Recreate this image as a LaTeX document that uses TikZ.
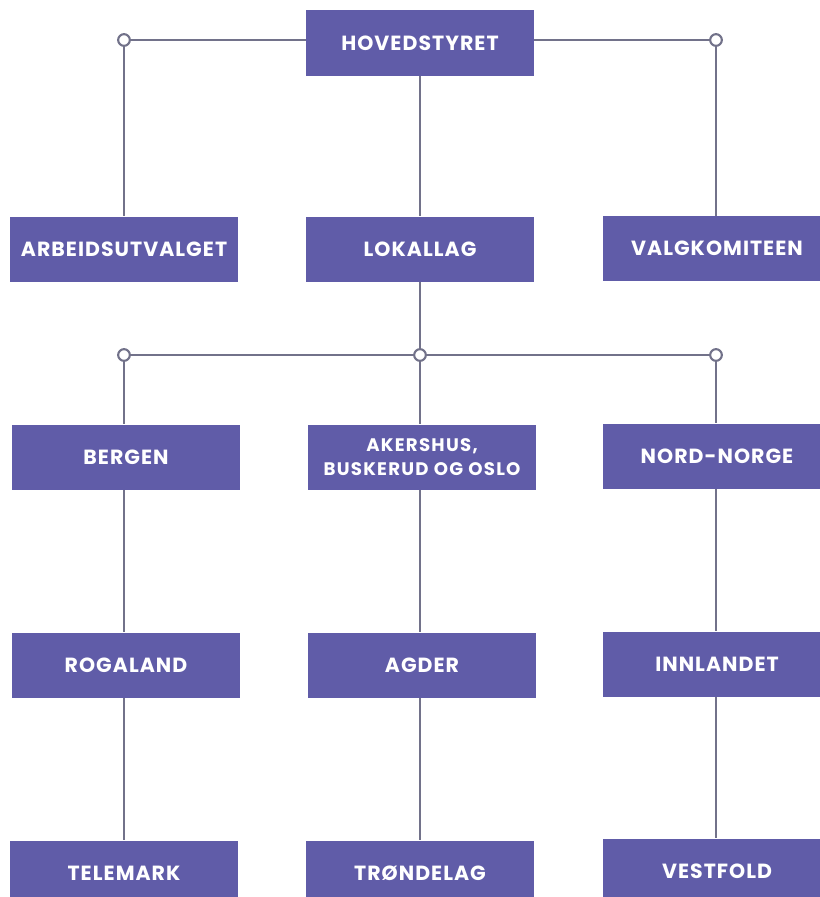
\documentclass[tikz,border=0pt]{standalone}
\usepackage{fontspec}
\setmainfont{Poppins}
\usetikzlibrary{positioning,calc}
\definecolor{boxpurple}{HTML}{605CA8}
\definecolor{linegray}{HTML}{72728A}

\begin{document}
\begin{tikzpicture}[x=0.03cm,y=-0.03cm,
    org/.style={fill=boxpurple, text=white,
      font=\bfseries\fontsize{17.5}{21}\selectfont\addfontfeatures{LetterSpace=5},
      minimum width=6.84cm, minimum height=1.95cm, inner sep=0pt, align=center},
    link/.style={draw=linegray, line width=2.4pt},
    knot/.style={circle, draw=linegray, fill=white, line width=1.8pt,
      minimum size=0.35cm, inner sep=0pt}]
            \useasboundingbox (0,0) rectangle (820,897);
            \clip (0,0) rectangle (820,897);

            % junction points
            \coordinate (kl) at (124,40);
            \coordinate (kr) at (716,40);
            \coordinate (ml) at (124,355);
            \coordinate (mm) at (420,355);
            \coordinate (mr) at (716,355);

            \node[org] (hoved) at (420,43) {HOVEDSTYRET};
            \node[org] (arbeid) at (124,249) {ARBEIDSUTVALGET};
            \node[org] (lokal) at (420,249) {LOKALLAG};
            \node[org] (valg) at (717,248.5) {VALGKOMITEEN};

            \node[org] (bergen) at (126,457) {BERGEN};
            \node[org, font=\bfseries\fontsize{15.5}{21}\selectfont\addfontfeatures{LetterSpace=7}] (akers) at (422,457) {AKERSHUS,\\BUSKERUD OG OSLO};
            \node[org] (nord) at (717,456) {NORD-NORGE};

            \node[org] (roga) at (126,665) {ROGALAND};
            \node[org] (agder) at (422,665) {AGDER};
            \node[org] (innl) at (717,664) {INNLANDET};

            \node[org] (tele) at (124,873) {TELEMARK};
            \node[org] (trond) at (420,873) {TRØNDELAG};
            \node[org] (vest) at (717,871) {VESTFOLD};

            % top level
            \draw[link] (kl) -- (kl -| hoved.west);
            \draw[link] (kr) -- (kr -| hoved.east);
            \draw[link] (kl) -- (kl |- arbeid.north);
            \draw[link] (kr) -- (kr |- valg.north);
            \draw[link] (hoved) -- (lokal);

            % local branches
            \draw[link] (lokal) -- (mm);
            \draw[link] (ml) -- (mr);
            \draw[link] (ml) -- (ml |- bergen.north);
            \draw[link] (mm) -- (mm |- akers.north);
            \draw[link] (mr) -- (mr |- nord.north);

            \draw[link] (ml |- bergen.south) -- (ml |- roga.north);
            \draw[link] (ml |- roga.south) -- (ml |- tele.north);
            \draw[link] (mm |- akers.south) -- (mm |- agder.north);
            \draw[link] (mm |- agder.south) -- (mm |- trond.north);
            \draw[link] (mr |- nord.south) -- (mr |- innl.north);
            \draw[link] (mr |- innl.south) -- (mr |- vest.north);

            \foreach \k in {kl,kr,ml,mm,mr}
              \node[knot] at (\k) {};
        \end{tikzpicture}
\end{document}
